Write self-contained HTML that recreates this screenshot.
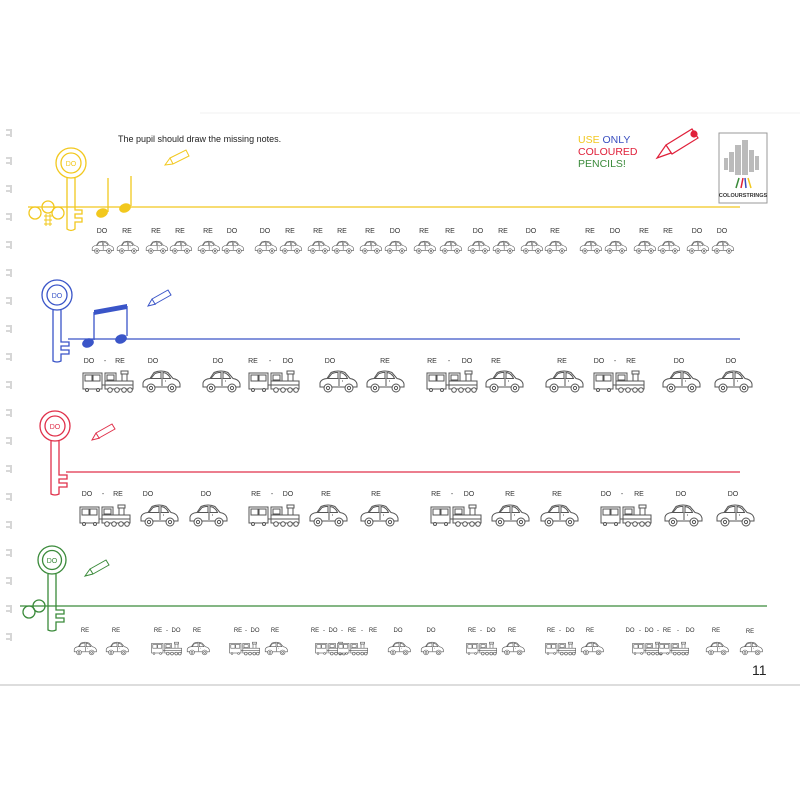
<!DOCTYPE html>
<html><head><meta charset="utf-8"><style>
html,body{margin:0;padding:0;background:#fff;}
svg{display:block;font-family:"Liberation Sans",sans-serif;}
</style></head><body>
<svg width="800" height="800" viewBox="0 0 800 800" xmlns="http://www.w3.org/2000/svg">
<defs>
<g id="car" fill="#fff" stroke="#555" stroke-width="1" vector-effect="non-scaling-stroke">
 <path d="M2 18 L2 14 Q3 10 9 9.5 L13 3.5 Q20 0.5 27 3.5 L32 9.5 Q38 10.5 39 15 L39 18 Z"/>
 <path d="M10 9.5 L14 4.5 Q19 3 20 3.5 L20 9.5 Z M22 3.5 Q27 4 29.5 9.5 L22 9.5 Z" fill="none"/>
 <path d="M21 9.5 L21 17 M24 12 L25 12" fill="none"/>
 <circle cx="10" cy="19" r="4"/><circle cx="10" cy="19" r="1.6"/>
 <circle cx="31" cy="19" r="4"/><circle cx="31" cy="19" r="1.6"/>
</g>
<g id="train" fill="#fff" stroke="#555" stroke-width="1">
 <rect x="1" y="4" width="19" height="16"/>
 <rect x="3" y="6" width="7" height="6"/><rect x="11" y="6" width="7" height="6"/>
 <line x1="20" y1="16" x2="23" y2="16"/>
 <rect x="23" y="4" width="11" height="8"/><rect x="25" y="6" width="7" height="5"/>
 <rect x="23" y="12" width="28" height="8"/>
 <rect x="40" y="5" width="5" height="7"/><rect x="39" y="2" width="7" height="3"/>
 <line x1="23" y1="16" x2="51" y2="16"/>
 <circle cx="5" cy="21" r="1.5"/><circle cx="16" cy="21" r="1.5"/>
 <circle cx="28" cy="21" r="2.3"/><circle cx="35" cy="21" r="2.3"/><circle cx="42" cy="21" r="2.3"/><circle cx="48" cy="21" r="2.3"/>
</g>
</defs>

<!-- binding marks -->
<g stroke="#999" stroke-width="0.8">
<path d="M6 130h4M6 135h4M11 129v8 M6 158h4M6 163h4M11 157v8 M6 186h4M6 191h4M11 185v8 M6 214h4M6 219h4M11 213v8 M6 242h4M6 247h4M11 241v8 M6 270h4M6 275h4M11 269v8 M6 298h4M6 303h4M11 297v8 M6 326h4M6 331h4M11 325v8 M6 354h4M6 359h4M11 353v8 M6 382h4M6 387h4M11 381v8 M6 410h4M6 415h4M11 409v8 M6 438h4M6 443h4M11 437v8 M6 466h4M6 471h4M11 465v8 M6 494h4M6 499h4M11 493v8 M6 522h4M6 527h4M11 521v8 M6 550h4M6 555h4M11 549v8 M6 578h4M6 583h4M11 577v8 M6 606h4M6 611h4M11 605v8 M6 634h4M6 639h4M11 633v8"/>
</g>
<line x1="200" y1="113" x2="800" y2="113" stroke="#f2f2f2"/>
<line x1="0" y1="685" x2="800" y2="685" stroke="#bbb"/>

<text x="118" y="142" font-size="9" fill="#222">The pupil should draw the missing notes.</text>

<!-- yellow -->
<g stroke="#f2c81e" fill="none" stroke-width="1.3">
<line x1="28" y1="207" x2="740" y2="207"/>
<circle cx="71" cy="163" r="15"/><circle cx="71" cy="163" r="10"/>
<path d="M67 178 V229 Q71 232 75 229 V222 H82 V218 H75 V214 H82 V210 H75 V178"/>
<circle cx="35" cy="213" r="6"/><circle cx="48" cy="207" r="6"/><circle cx="58" cy="213" r="6"/>
<path d="M44 216h8M44 220h8M44 224h8M46 214v12M50 214v12" stroke-width="1"/>
<line x1="108" y1="178" x2="108" y2="212"/><line x1="131" y1="176" x2="131" y2="206"/>
<path d="M170 158l16-8 3 6-16 8z M170 158l-5 7 8-1" stroke-width="1"/>
</g>
<ellipse cx="102" cy="213" rx="6" ry="4.5" fill="#f2c81e" transform="rotate(-20 102 213)"/>
<ellipse cx="125" cy="208" rx="6" ry="4.5" fill="#f2c81e" transform="rotate(-20 125 208)"/>
<text x="71" y="166" font-size="7" fill="#f2c81e" text-anchor="middle">DO</text>

<g font-size="7" fill="#333" text-anchor="middle">
<text x="102" y="233">DO</text><text x="127" y="233">RE</text><text x="156" y="233">RE</text><text x="180" y="233">RE</text><text x="208" y="233">RE</text><text x="232" y="233">DO</text><text x="265" y="233">DO</text><text x="290" y="233">RE</text><text x="318" y="233">RE</text><text x="342" y="233">RE</text><text x="370" y="233">RE</text><text x="395" y="233">DO</text><text x="424" y="233">RE</text><text x="450" y="233">RE</text><text x="478" y="233">DO</text><text x="503" y="233">RE</text><text x="531" y="233">DO</text><text x="555" y="233">RE</text><text x="590" y="233">RE</text><text x="615" y="233">DO</text><text x="644" y="233">RE</text><text x="668" y="233">RE</text><text x="697" y="233">DO</text><text x="722" y="233">DO</text>
</g>
<g>
<use href="#car" transform="translate(91 240) scale(0.58)"/><use href="#car" transform="translate(116 240) scale(0.58)"/><use href="#car" transform="translate(145 240) scale(0.58)"/><use href="#car" transform="translate(169 240) scale(0.58)"/><use href="#car" transform="translate(197 240) scale(0.58)"/><use href="#car" transform="translate(221 240) scale(0.58)"/><use href="#car" transform="translate(254 240) scale(0.58)"/><use href="#car" transform="translate(279 240) scale(0.58)"/><use href="#car" transform="translate(307 240) scale(0.58)"/><use href="#car" transform="translate(331 240) scale(0.58)"/><use href="#car" transform="translate(359 240) scale(0.58)"/><use href="#car" transform="translate(384 240) scale(0.58)"/><use href="#car" transform="translate(413 240) scale(0.58)"/><use href="#car" transform="translate(439 240) scale(0.58)"/><use href="#car" transform="translate(467 240) scale(0.58)"/><use href="#car" transform="translate(492 240) scale(0.58)"/><use href="#car" transform="translate(520 240) scale(0.58)"/><use href="#car" transform="translate(544 240) scale(0.58)"/><use href="#car" transform="translate(579 240) scale(0.58)"/><use href="#car" transform="translate(604 240) scale(0.58)"/><use href="#car" transform="translate(633 240) scale(0.58)"/><use href="#car" transform="translate(657 240) scale(0.58)"/><use href="#car" transform="translate(686 240) scale(0.58)"/><use href="#car" transform="translate(711 240) scale(0.58)"/>
</g>

<!-- top right -->
<text font-size="10.5" x="578" y="143"><tspan fill="#f2c81e">USE </tspan><tspan fill="#3a4fc0">ONLY</tspan></text>
<text font-size="10.5" x="578" y="155" fill="#e0203a">COLOURED</text>
<text font-size="10.5" x="578" y="167" fill="#3a8a3a">PENCILS!</text>
<g stroke="#e0203a" fill="none" stroke-width="1.2">
<path d="M666 145l26-16 6 9-26 16z M666 145l-9 13 14-5"/><circle cx="694" cy="134" r="3" fill="#e0203a"/>
</g>
<rect x="719" y="133" width="48" height="70" fill="#fff" stroke="#999"/>
<g fill="#bbb"><rect x="735" y="145" width="6" height="30"/><rect x="742" y="140" width="6" height="35"/><rect x="729" y="152" width="5" height="20"/><rect x="749" y="150" width="5" height="22"/><rect x="724" y="158" width="4" height="12"/><rect x="755" y="156" width="4" height="14"/></g>
<path d="M736 188l3-10" stroke-width="1.5" stroke="#3a8a3a"/>
<path d="M741 188l2-10" stroke="#e0203a" stroke-width="1.5"/><path d="M746 188l-1-10" stroke="#3a4fc0" stroke-width="1.5"/><path d="M751 188l-3-10" stroke="#f2c81e" stroke-width="1.5"/>
<text x="743" y="197" font-size="5.5" font-weight="bold" fill="#333" text-anchor="middle">COLOURSTRINGS</text>

<!-- blue -->
<g stroke="#3a55c8" fill="none" stroke-width="1.3">
<line x1="68" y1="339" x2="740" y2="339"/>
<circle cx="57" cy="295" r="15"/><circle cx="57" cy="295" r="10"/>
<path d="M53 310 V361 Q57 363 61 361 V354 H69 V350 H61 V346 H69 V342 H61 V310"/>
<line x1="94" y1="312" x2="94" y2="340"/><line x1="127" y1="306" x2="127" y2="336"/>
<path d="M152 299l16-9 3 5-16 9z M152 299l-4 7 8-2" stroke-width="1"/>
</g>
<path d="M94 310 L127 304 L127 309 L94 315Z" fill="#3a55c8"/>
<ellipse cx="88" cy="343" rx="6" ry="4.5" fill="#3a55c8" transform="rotate(-20 88 343)"/>
<ellipse cx="121" cy="339" rx="6" ry="4.5" fill="#3a55c8" transform="rotate(-20 121 339)"/>
<text x="57" y="298" font-size="7" fill="#3a55c8" text-anchor="middle">DO</text>
<g font-size="7" fill="#333" text-anchor="middle">
<text x="89" y="363">DO</text><text x="105" y="363">-</text><text x="120" y="363">RE</text><text x="153" y="363">DO</text>
<text x="218" y="363">DO</text><text x="253" y="363">RE</text><text x="270" y="363">-</text><text x="288" y="363">DO</text><text x="330" y="363">DO</text><text x="385" y="363">RE</text>
<text x="432" y="363">RE</text><text x="449" y="363">-</text><text x="467" y="363">DO</text><text x="496" y="363">RE</text><text x="562" y="363">RE</text>
<text x="599" y="363">DO</text><text x="615" y="363">-</text><text x="631" y="363">RE</text><text x="679" y="363">DO</text><text x="731" y="363">DO</text>
</g>
<use href="#train" transform="translate(82 369)"/><use href="#car" transform="translate(141 369)"/><use href="#car" transform="translate(201 369)"/><use href="#train" transform="translate(248 369)"/><use href="#car" transform="translate(318 369)"/><use href="#car" transform="translate(365 369)"/><use href="#train" transform="translate(426 369)"/><use href="#car" transform="translate(484 369)"/><use href="#car" transform="translate(544 369)"/><use href="#train" transform="translate(593 369)"/><use href="#car" transform="translate(661 369)"/><use href="#car" transform="translate(713 369)"/>

<!-- red -->
<g stroke="#e0304a" fill="none" stroke-width="1.3">
<line x1="66" y1="472" x2="740" y2="472"/>
<circle cx="55" cy="426" r="15"/><circle cx="55" cy="426" r="10"/>
<path d="M51 441 V494 Q55 496 59 494 V487 H67 V483 H59 V479 H67 V475 H59 V441"/>
<path d="M96 433l16-9 3 5-16 9z M96 433l-4 7 8-2" stroke-width="1"/>
</g>
<text x="55" y="429" font-size="7" fill="#e0304a" text-anchor="middle">DO</text>
<g font-size="7" fill="#333" text-anchor="middle">
<text x="87" y="496">DO</text><text x="103" y="496">-</text><text x="118" y="496">RE</text><text x="148" y="496">DO</text>
<text x="206" y="496">DO</text><text x="256" y="496">RE</text><text x="272" y="496">-</text><text x="288" y="496">DO</text><text x="326" y="496">RE</text><text x="376" y="496">RE</text>
<text x="436" y="496">RE</text><text x="452" y="496">-</text><text x="469" y="496">DO</text><text x="510" y="496">RE</text><text x="557" y="496">RE</text>
<text x="606" y="496">DO</text><text x="622" y="496">-</text><text x="639" y="496">RE</text><text x="681" y="496">DO</text><text x="733" y="496">DO</text>
</g>
<use href="#train" transform="translate(79 503)"/><use href="#car" transform="translate(139 503)"/><use href="#car" transform="translate(188 503)"/><use href="#train" transform="translate(248 503)"/><use href="#car" transform="translate(308 503)"/><use href="#car" transform="translate(359 503)"/><use href="#train" transform="translate(430 503)"/><use href="#car" transform="translate(490 503)"/><use href="#car" transform="translate(539 503)"/><use href="#train" transform="translate(600 503)"/><use href="#car" transform="translate(663 503)"/><use href="#car" transform="translate(715 503)"/>

<!-- green -->
<g stroke="#3a8a3a" fill="none" stroke-width="1.3">
<line x1="20" y1="606" x2="767" y2="606"/>
<circle cx="52" cy="560" r="14"/><circle cx="52" cy="560" r="9.5"/>
<path d="M48 574 V630 Q52 632 56 630 V622 H64 V618 H56 V614 H64 V610 H56 V574"/>
<circle cx="29" cy="612" r="6"/><circle cx="39" cy="606" r="6"/>
<path d="M90 569l16-9 3 5-16 9z M90 569l-5 7 8-2" stroke-width="1"/>
</g>
<text x="52" y="563" font-size="7" fill="#3a8a3a" text-anchor="middle">DO</text>
<g font-size="6" fill="#333" text-anchor="middle">
<text x="85" y="632">RE</text><text x="116" y="632">RE</text>
<text x="158" y="632">RE</text><text x="167" y="632">-</text><text x="176" y="632">DO</text><text x="197" y="632">RE</text>
<text x="238" y="632">RE</text><text x="246" y="632">-</text><text x="255" y="632">DO</text><text x="275" y="632">RE</text>
<text x="315" y="632">RE</text><text x="324" y="632">-</text><text x="333" y="632">DO</text><text x="342" y="632">-</text><text x="352" y="632">RE</text><text x="362" y="632">-</text><text x="373" y="632">RE</text>
<text x="398" y="632">DO</text><text x="431" y="632">DO</text>
<text x="472" y="632">RE</text><text x="481" y="632">-</text><text x="491" y="632">DO</text><text x="512" y="632">RE</text>
<text x="551" y="632">RE</text><text x="560" y="632">-</text><text x="570" y="632">DO</text><text x="590" y="632">RE</text>
<text x="630" y="632">DO</text><text x="640" y="632">-</text><text x="649" y="632">DO</text><text x="658" y="632">-</text><text x="667" y="632">RE</text><text x="678" y="632">-</text><text x="690" y="632">DO</text>
<text x="716" y="632">RE</text><text x="750" y="633">RE</text>
</g>
<g>
<use href="#car" transform="translate(73 641) scale(0.6)"/><use href="#car" transform="translate(105 641) scale(0.6)"/>
<use href="#train" transform="translate(151 641) scale(0.6)"/><use href="#car" transform="translate(186 641) scale(0.6)"/>
<use href="#train" transform="translate(229 641) scale(0.6)"/><use href="#car" transform="translate(264 641) scale(0.6)"/>
<use href="#train" transform="translate(315 641) scale(0.6)"/><use href="#train" transform="translate(337 641) scale(0.6)"/>
<use href="#car" transform="translate(387 641) scale(0.6)"/><use href="#car" transform="translate(420 641) scale(0.6)"/>
<use href="#train" transform="translate(466 641) scale(0.6)"/><use href="#car" transform="translate(501 641) scale(0.6)"/>
<use href="#train" transform="translate(545 641) scale(0.6)"/><use href="#car" transform="translate(580 641) scale(0.6)"/>
<use href="#train" transform="translate(632 641) scale(0.6)"/><use href="#train" transform="translate(658 641) scale(0.6)"/>
<use href="#car" transform="translate(705 641) scale(0.6)"/><use href="#car" transform="translate(739 641) scale(0.6)"/>
</g>
<text x="752" y="675" font-size="14" fill="#222">11</text>
</svg>
</body></html>
